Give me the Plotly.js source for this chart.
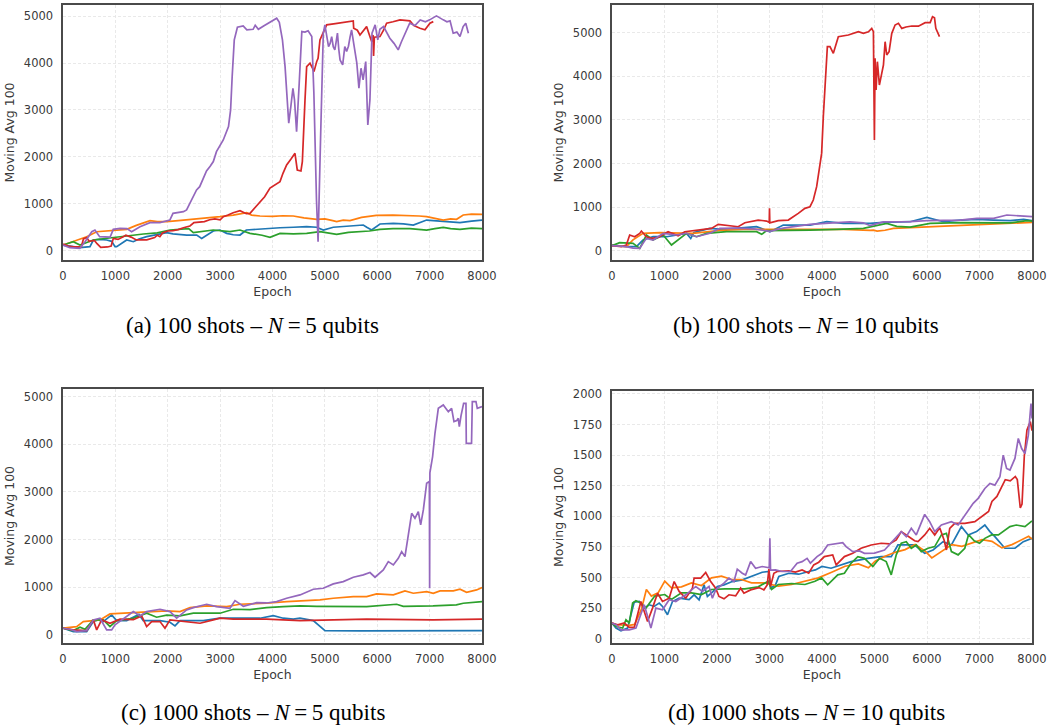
<!DOCTYPE html>
<html>
<head>
<meta charset="utf-8">
<script src="https://cdn.plot.ly/plotly-3.0.1.min.js"></script>
<style>html,body{margin:0;padding:0;background:#fff;}#chart{width:1050px;height:725px;}</style>
</head>
<body>
<div id="chart"></div>
<script>
// ---------- Data: [epoch, moving average] pairs ----------
// Panel (a) 100 shots, N=5
const A_BLUE = [[0,121],[150,100],[324,64],[515,85],[579,228],[700,240],[834,228],[930,200],[993,85],[1025,85],[1216,228],[1343,192],[1450,250],[1598,299],[1800,350],[1980,384],[2100,360],[2362,334],[2553,334],[2648,263],[2744,330],[2870,420],[2997,441],[3125,370],[3250,340],[3379,334],[3500,441],[3700,460],[3889,477],[4143,490],[4400,500],[4652,512],[4843,500],[4970,441],[5160,500],[5300,510],[5479,527],[5600,540],[5733,548],[5800,500],[5893,441],[6052,569],[6306,583],[6500,570],[6688,548],[6943,654],[7100,640],[7260,619],[7400,620],[7579,598],[7800,630],[8000,654]];
const A_ORANGE = [[0,121],[261,228],[452,299],[643,405],[900,430],[1216,455],[1400,540],[1661,640],[1800,620],[1980,619],[2200,640],[2488,669],[2700,680],[2997,725],[3250,760],[3507,811],[3600,760],[3761,740],[4000,730],[4200,745],[4397,740],[4600,700],[4843,669],[5000,680],[5150,640],[5225,619],[5350,650],[5479,640],[5700,710],[5982,754],[6300,760],[6624,754],[6800,740],[6943,725],[7100,690],[7260,654],[7400,680],[7515,669],[7642,761],[7800,780],[8000,776]];
const A_GREEN = [[0,121],[197,192],[324,121],[450,170],[579,228],[800,260],[1000,280],[1216,313],[1534,356],[1800,380],[2043,441],[2297,462],[2400,470],[2488,384],[2700,420],[2870,441],[3188,405],[3379,441],[3570,370],[3800,330],[3952,285],[4143,370],[4400,360],[4652,370],[4906,405],[5100,370],[5225,348],[5450,390],[5670,405],[5850,420],[6052,455],[6300,470],[6624,469],[6800,450],[6943,441],[7100,470],[7260,497],[7400,470],[7579,455],[7800,480],[8000,469]];
const A_RED = [[0,140],[100,100],[200,80],[300,70],[350,80],[390,250],[450,280],[500,200],[600,220],[650,150],[720,70],[850,80],[920,100],[960,260],[1050,240],[1150,300],[1200,330],[1300,290],[1400,230],[1600,230],[1750,280],[1800,330],[1850,300],[1900,380],[2000,420],[2100,430],[2200,450],[2300,490],[2424,527],[2500,600],[2600,610],[2700,620],[2800,660],[2900,680],[3000,660],[3061,726],[3150,760],[3250,810],[3379,853],[3450,820],[3500,790],[3570,797],[3650,900],[3761,1045],[3850,1150],[3952,1337],[4050,1400],[4143,1472],[4200,1650],[4270,1828],[4350,1950],[4429,2077],[4473,1721],[4543,1700],[4570,1900],[4588,2504],[4620,3200],[4652,3925],[4716,3997],[4760,3900],[4792,3818],[4843,4030],[4870,4100],[4906,4494],[4970,4671],[5034,4814],[5200,4840],[5351,4863],[5542,4899],[5550,4743],[5620,4700],[5670,4600],[5740,4700],[5797,4777],[5850,4600],[5893,4458],[5920,4600],[5930,4150],[5945,4550],[6052,4565],[6120,4700],[6179,4850],[6300,4880],[6434,4921],[6624,4900],[6700,4800],[6815,4743],[6911,4710],[7006,4850],[7070,4884]];
const A_PURPLE = [[0,121],[130,64],[320,50],[420,192],[550,405],[610,441],[700,299],[800,300],[900,290],[960,455],[1090,476],[1220,470],[1310,405],[1470,512],[1660,598],[1850,600],[2040,654],[2100,797],[2300,833],[2360,869],[2420,1000],[2490,1152],[2550,1295],[2610,1365],[2680,1560],[2740,1700],[2810,1800],[2870,1900],[2930,2112],[3060,2361],[3160,2645],[3200,3001],[3230,3711],[3270,4494],[3330,4765],[3440,4793],[3510,4707],[3630,4720],[3670,4807],[3730,4720],[3830,4790],[3950,4871],[4080,4957],[4130,4870],[4190,4494],[4240,3925],[4270,3285],[4310,2717],[4350,3072],[4390,3463],[4420,3214],[4460,2539],[4510,3570],[4560,4671],[4620,4660],[4680,4690],[4750,4565],[4790,3356],[4840,1082],[4870,192],[4920,2505],[4970,4636],[5000,4814],[5040,4500],[5070,4352],[5100,4420],[5130,4565],[5160,4350],[5190,4281],[5215,4450],[5240,4640],[5265,4300],[5290,4068],[5340,3961],[5380,4352],[5415,4250],[5450,4360],[5480,4550],[5510,4707],[5560,4352],[5610,3997],[5650,3463],[5690,3890],[5730,3641],[5780,4032],[5820,2681],[5860,3214],[5900,4636],[5960,4814],[6010,4494],[6050,4720],[6120,4778],[6180,4650],[6240,4530],[6320,4420],[6400,4281],[6460,4450],[6530,4636],[6620,4850],[6720,4800],[6820,4921],[6920,4880],[7000,4921],[7130,5006],[7200,4950],[7260,4921],[7330,4880],[7390,4900],[7450,4636],[7520,4660],[7580,4565],[7640,4778],[7690,4850],[7740,4636]];

// Panel (b) 100 shots, N=10
const B_BLUE = [[0,131],[274,92],[465,92],[591,245],[782,321],[1038,321],[1419,398],[1500,280],[1560,420],[1864,513],[2100,490],[2373,513],[2754,551],[3008,436],[3262,589],[3771,589],[4090,665],[4406,627],[4916,627],[5169,650],[5679,665],[5997,766],[6314,665],[6632,703],[6951,720],[7268,703],[7586,688],[7840,720],[8000,688]];
const B_ORANGE = [[0,115],[274,92],[400,250],[591,398],[910,413],[1546,398],[2055,467],[2500,490],[3135,490],[3771,490],[4406,490],[4916,467],[4980,470],[5050,450],[5200,470],[5360,513],[5997,544],[6632,589],[7268,620],[8000,650]];
const B_GREEN = [[0,115],[146,184],[401,170],[528,54],[655,360],[782,245],[974,360],[1133,131],[1419,398],[1610,321],[1800,398],[2182,436],[2754,436],[2850,375],[2945,460],[3262,459],[3771,470],[4280,489],[4788,513],[5233,628],[5424,560],[5679,543],[6060,627],[6632,643],[7268,650],[7586,640],[7904,688],[8000,680]];
const B_RED = [[0,115],[176,92],[273,130],[337,359],[432,321],[528,397],[560,451],[655,321],[750,283],[878,306],[1068,436],[1259,344],[1386,436],[1641,474],[1895,512],[2022,604],[2276,566],[2404,550],[2531,642],[2785,703],[2944,680],[2995,650],[3000,971],[3006,640],[3167,688],[3358,703],[3548,856],[3675,971],[3771,1009],[3834,1162],[3898,1468],[3962,2003],[3993,2232],[4025,3073],[4057,3838],[4102,4679],[4152,4679],[4216,4526],[4311,4908],[4502,4946],[4693,5022],[4788,4985],[4884,5022],[4947,5099],[4979,5022],[4998,2538],[5011,4411],[5030,3685],[5055,4335],[5093,3800],[5138,4067],[5170,4258],[5202,4793],[5233,4488],[5278,4564],[5329,4985],[5392,5176],[5456,5214],[5520,5099],[5600,5130],[5710,5153],[5837,5150],[5965,5229],[6060,5230],[6105,5367],[6143,5340],[6168,5099],[6219,4985],[6238,4908]];
const B_PURPLE = [[0,115],[274,92],[400,60],[528,54],[591,169],[655,283],[782,245],[974,398],[1228,360],[1419,400],[1610,321],[1864,400],[2055,513],[2373,520],[2700,500],[3008,443],[3262,520],[3771,605],[4280,643],[4533,660],[4788,640],[4916,574],[5169,660],[5679,665],[5997,690],[6632,700],[6951,741],[7268,741],[7522,819],[8000,780]];

// Panel (c) 1000 shots, N=5
const C_BLUE = [[0,140],[197,70],[452,70],[579,280],[674,315],[770,280],[929,420],[1025,300],[1216,300],[1450,430],[1533,300],[1852,300],[2043,265],[2138,189],[2234,300],[2678,300],[2997,350],[3761,350],[4015,405],[4206,350],[4397,330],[4524,350],[4778,300],[4906,175],[5002,90],[5670,83],[6306,83],[8000,90]];
const C_ORANGE = [[0,140],[261,175],[388,280],[706,315],[897,440],[1216,455],[1661,490],[1979,503],[2234,490],[2425,573],[2743,608],[3125,594],[3379,643],[3888,664],[4270,699],[4652,720],[4906,734],[5161,769],[5543,804],[5798,804],[5988,860],[6307,839],[6529,923],[6688,874],[6943,909],[7070,874],[7198,923],[7452,923],[7579,958],[7706,895],[7897,944],[8000,993]];
const C_GREEN = [[0,140],[197,91],[325,161],[420,119],[579,315],[770,315],[897,175],[1025,301],[1343,350],[1597,455],[1788,371],[1979,413],[2234,399],[2488,455],[2997,455],[3252,538],[3570,530],[3888,573],[4206,594],[4525,608],[4843,600],[5161,594],[5798,594],[6370,643],[6498,600],[7064,608],[7510,629],[7643,664],[8000,699]];
const C_RED = [[0,140],[197,105],[452,90],[579,315],[643,105],[738,315],[897,245],[1088,329],[1343,320],[1502,399],[1597,175],[1693,280],[1852,280],[1947,140],[2043,315],[2361,273],[2616,245],[2870,315],[2997,350],[3252,329],[3888,329],[4525,301],[4970,315],[5798,329],[7064,315],[8000,329]];
const C_PURPLE = [[0,140],[134,119],[261,70],[452,91],[579,315],[706,350],[834,105],[929,105],[993,210],[1152,329],[1343,490],[1470,399],[1597,490],[1852,538],[2043,490],[2170,350],[2361,524],[2488,573],[2743,643],[2934,594],[3188,559],[3284,720],[3443,600],[3697,678],[3888,670],[4079,699],[4270,769],[4525,839],[4779,958],[4970,979],[5161,1070],[5352,1119],[5543,1210],[5734,1259],[5861,1308],[5957,1210],[6116,1364],[6211,1538],[6307,1468],[6402,1608],[6466,1748],[6529,1643],[6593,2063],[6657,2552],[6720,2447],[6784,2587],[6829,2308],[6880,2622],[6943,3182],[6995,3217],[7000,979],[7005,3400],[7057,3741],[7102,4231],[7166,4755],[7261,4825],[7357,4685],[7420,4755],[7465,4475],[7520,4500],[7547,4545],[7567,4371],[7600,4600],[7649,4860],[7694,4860],[7700,4021],[7800,4021],[7815,4895],[7885,4895],[7910,4755],[8000,4790]];

// Panel (d) 1000 shots, N=10
const D_BLUE = [[0,128],[76,87],[171,65],[298,87],[361,196],[424,299],[519,304],[614,250],[709,277],[804,264],[899,291],[962,264],[1057,196],[1152,304],[1279,331],[1469,320],[1564,359],[1659,318],[1753,440],[1817,345],[1912,380],[2007,427],[2133,440],[2291,467],[2481,481],[2671,514],[2861,543],[2988,549],[3019,413],[3114,440],[3178,508],[3368,535],[3557,527],[3747,549],[3874,562],[4000,590],[4172,576],[4554,630],[4873,657],[5127,671],[5319,671],[5446,766],[5764,766],[5956,698],[6115,725],[6306,793],[6465,766],[6656,916],[6784,848],[6943,875],[7102,929],[7198,875],[7293,834],[7484,739],[7675,739],[7835,793],[8000,820]];
const D_ORANGE = [[0,128],[76,114],[329,109],[432,117],[560,239],[655,402],[750,348],[878,375],[1005,470],[1132,416],[1323,424],[1513,456],[1704,435],[1895,497],[2086,511],[2276,484],[2467,484],[2658,456],[2912,456],[3167,429],[3421,443],[3675,470],[3930,497],[4184,543],[4439,592],[4693,611],[4884,579],[5011,633],[5202,674],[5392,706],[5583,728],[5774,769],[5965,715],[6092,660],[6283,715],[6473,769],[6664,755],[6855,782],[7046,810],[7237,796],[7427,742],[7618,769],[7809,810],[7936,837],[8000,815]];
const D_GREEN = [[0,128],[76,100],[203,87],[266,155],[329,128],[393,291],[456,310],[551,291],[646,250],[814,348],[1005,361],[1132,320],[1323,375],[1513,375],[1704,361],[1895,402],[2149,408],[2531,408],[2785,424],[2976,470],[3040,402],[3167,443],[3421,451],[3675,443],[3866,470],[3993,497],[4108,440],[4300,522],[4427,535],[4554,617],[4682,671],[4809,657],[4968,590],[5096,657],[5223,630],[5319,522],[5414,685],[5510,780],[5605,793],[5701,739],[5796,766],[5892,712],[6019,739],[6147,753],[6274,848],[6370,861],[6465,712],[6593,685],[6720,739],[6791,850],[6900,800],[7000,780],[7102,820],[7230,848],[7360,848],[7452,875],[7580,916],[7700,929],[7866,916],[8000,962]];
const D_RED = [[0,128],[108,114],[234,128],[329,92],[424,92],[551,304],[614,223],[677,141],[772,250],[867,372],[962,304],[1089,331],[1184,467],[1279,386],[1405,331],[1532,413],[1564,495],[1690,495],[1785,541],[1880,467],[1975,413],[2038,345],[2133,326],[2228,359],[2355,350],[2450,413],[2513,372],[2640,399],[2798,418],[2893,399],[2956,440],[2990,570],[3019,427],[3083,535],[3146,549],[3368,554],[3494,545],[3621,562],[3747,535],[3842,603],[3938,625],[4045,671],[4204,685],[4270,603],[4427,671],[4586,698],[4745,739],[4936,766],[5127,780],[5287,775],[5414,807],[5510,875],[5605,848],[5764,800],[5828,793],[5956,848],[6051,902],[6147,848],[6242,907],[6325,807],[6370,725],[6433,902],[6529,943],[6720,943],[6911,956],[7046,1000],[7173,1040],[7237,1122],[7332,1163],[7427,1244],[7491,1299],[7586,1290],[7682,1326],[7720,1300],[7777,1068],[7810,1100],[7853,1489],[7904,1706],[7968,1774],[8000,1700]];
const D_PURPLE = [[0,128],[76,114],[171,73],[329,73],[456,87],[551,200],[614,277],[680,180],[741,87],[836,250],[962,236],[1089,318],[1215,304],[1405,359],[1595,427],[1722,386],[1848,427],[1912,331],[1975,399],[2133,454],[2228,495],[2323,467],[2386,568],[2481,535],[2545,520],[2640,630],[2735,576],[2861,590],[2995,580],[3007,820],[3020,560],[3114,562],[3241,549],[3399,549],[3526,617],[3621,630],[3716,657],[3779,617],[3906,671],[4000,698],[4108,766],[4395,785],[4459,753],[4586,712],[4713,717],[4809,698],[5000,700],[5191,725],[5446,848],[5510,875],[5605,834],[5701,902],[5796,848],[5956,1016],[6051,956],[6147,875],[6274,929],[6465,956],[6593,929],[6720,1011],[6880,1106],[6975,1147],[7102,1228],[7198,1269],[7293,1255],[7389,1323],[7452,1500],[7516,1391],[7580,1378],[7675,1473],[7739,1636],[7803,1554],[7866,1513],[7930,1663],[7981,1921],[8000,1799]];

const PANEL_SERIES = [
  [A_BLUE, A_ORANGE, A_GREEN, A_RED, A_PURPLE],
  [B_BLUE, B_ORANGE, B_GREEN, B_RED, B_PURPLE],
  [C_BLUE, C_ORANGE, C_GREEN, C_RED, C_PURPLE],
  [D_BLUE, D_ORANGE, D_GREEN, D_RED, D_PURPLE]
];
const CAPTIONS = [
  "(a) 100 shots – <i>N</i>\u2009=\u20095 qubits",
  "(b) 100 shots – <i>N</i>\u2009=\u200910 qubits",
  "(c) 1000 shots – <i>N</i>\u2009=\u20095 qubits",
  "(d) 1000 shots – <i>N</i>\u2009=\u200910 qubits"
];
const Y_TICKS = [
  [0,1000,2000,3000,4000,5000],
  [0,1000,2000,3000,4000,5000],
  [0,1000,2000,3000,4000,5000],
  [0,250,500,750,1000,1250,1500,1750,2000]
];
const X_TICKS = [0,1000,2000,3000,4000,5000,6000,7000,8000];
const X_TITLE = "Epoch";
const Y_TITLE = "Moving Avg 100";

// ---------- Styling / layout ----------
const COLORS = ['#1f77b4','#ff7f0e','#2ca02c','#d62728','#9467bd'];
const W = 1050, H = 725;
// plot-area pixel boxes [left, right, top, bottom]
const BOXES = [[63,482,5,260],[612,1032,5,260],[63,482,389,643],[612,1032,391,643]];
const Y_RANGES = [[-198,5238],[-213,5635],[-170,5160],[-35,2024]];
const CAP_POS = [[252,325],[806,325],[253,712],[806,712]];

const traces = [];
PANEL_SERIES.forEach((series, p) => {
  const sfx = p === 0 ? '' : String(p + 1);
  series.forEach((pts, i) => {
    traces.push({
      type: 'scatter', mode: 'lines',
      x: pts.map(d => d[0]), y: pts.map(d => d[1]),
      xaxis: 'x' + sfx, yaxis: 'y' + sfx,
      line: {color: COLORS[i], width: 1.7},
      hoverinfo: 'skip', showlegend: false
    });
  });
});

const tickFont = {family: 'DejaVu Sans, sans-serif', size: 11.5, color: '#3a3a3a'};
const titleFont = {family: 'DejaVu Sans, sans-serif', size: 12.5, color: '#3a3a3a'};
const layout = {
  width: W, height: H,
  margin: {l: 0, r: 0, t: 0, b: 0},
  paper_bgcolor: '#ffffff', plot_bgcolor: '#ffffff',
  showlegend: false,
  annotations: CAPTIONS.map((t, p) => ({
    text: t, xref: 'paper', yref: 'paper',
    x: CAP_POS[p][0] / W, y: 1 - CAP_POS[p][1] / H,
    xanchor: 'center', yanchor: 'middle', showarrow: false,
    font: {family: 'Liberation Serif, Times New Roman, serif', size: 23, color: '#000'}
  }))
};
BOXES.forEach((b, p) => {
  const sfx = p === 0 ? '' : String(p + 1);
  const common = {
    showline: true, mirror: true, linecolor: '#4a4a4a', linewidth: 1.6,
    showgrid: true, gridcolor: '#e4e4e4', gridwidth: 0.8, griddash: '3px,2px',
    zeroline: false, ticks: '', tickfont: tickFont, automargin: false,
    fixedrange: true
  };
  layout['xaxis' + sfx] = Object.assign({}, common, {
    domain: [b[0] / W, b[1] / W], anchor: 'y' + sfx,
    range: [0, 8000], tickvals: X_TICKS, ticktext: X_TICKS.map(String),
    ticklabelstandoff: 5,
    title: {text: X_TITLE, font: titleFont, standoff: 5}
  });
  layout['yaxis' + sfx] = Object.assign({}, common, {
    domain: [1 - b[3] / H, 1 - b[2] / H], anchor: 'x' + sfx,
    range: Y_RANGES[p], tickvals: Y_TICKS[p], ticktext: Y_TICKS[p].map(String),
    ticklabelstandoff: 6,
    title: {text: Y_TITLE, font: titleFont, standoff: 6}
  });
});

Plotly.newPlot('chart', traces, layout, {staticPlot: true, displayModeBar: false});
</script>
</body>
</html>
